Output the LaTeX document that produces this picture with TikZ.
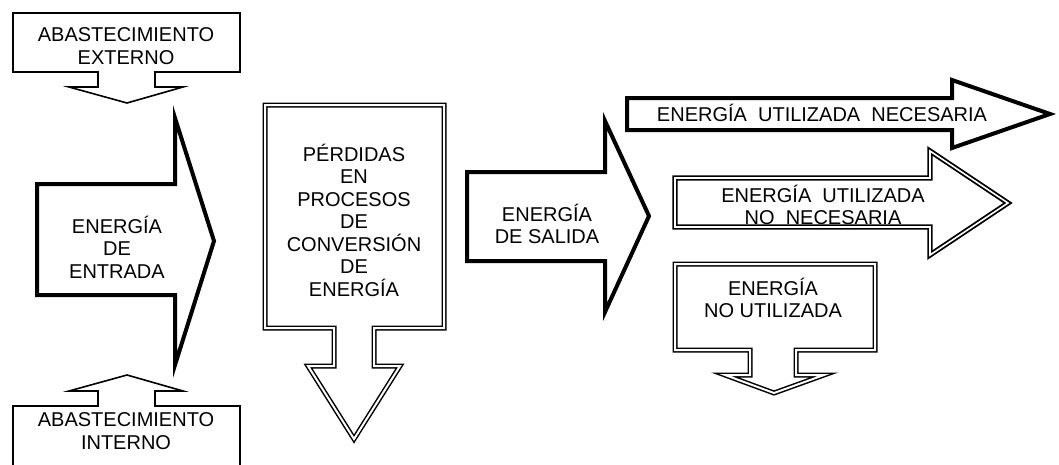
\documentclass[tikz,border=0pt]{standalone}
\usepackage{fontspec}
\setmainfont{Liberation Sans}
\begin{document}
\begin{tikzpicture}[x=1pt,y=-1pt,
  thinline/.style={line width=1.6pt, line join=miter},
  thickline/.style={line width=4pt, line join=miter, miter limit=20},
  dbl/.style={double, line width=1.5pt, double distance=2pt, line join=miter, miter limit=20},
  dblb/.style={double, line width=1.8pt, double distance=1.6pt, line join=miter, miter limit=20},
  txt/.style={font=\fontsize{20}{22.5}\selectfont, align=center, inner sep=0pt}]
\useasboundingbox (0,0) rectangle (1059,464);
% Abastecimiento externo
\draw[thinline] (13,13) -- (240,13) -- (240,72) -- (155,72) -- (155,87) -- (183,87) -- (127,103) -- (69,87) -- (98,87) -- (98,72) -- (13,72) -- cycle;
\node[txt] (ext) at (126,46) {ABASTECIMIENTO\\EXTERNO};
% Abastecimiento interno
\draw[thinline] (13,466) -- (13,406) -- (98,406) -- (98,391) -- (69,391) -- (127,375) -- (183,391) -- (155,391) -- (155,406) -- (240,406) -- (240,466);
\node[txt] (int) at (126,431) {ABASTECIMIENTO\\INTERNO};
% Energia de entrada
\draw[thickline] (37,184) -- (175,184) -- (175,118) -- (214,241) -- (175,365) -- (175,295) -- (37,295) -- cycle;
\node[txt] (ent) at (117,247) {ENERGÍA\\DE\\ENTRADA};
% Perdidas
\draw[dbl] (265,105) -- (444,105) -- (444,328) -- (374,328) -- (374,366) -- (400,366) -- (354,439) -- (308,366) -- (334,366) -- (334,328) -- (265,328) -- cycle;
\node[txt] (per) at (354,220) {PÉRDIDAS\\EN\\PROCESOS\\DE\\CONVERSIÓN\\DE\\ENERGÍA};
% Energia de salida
\draw[thickline] (467,172) -- (605,172) -- (605,121) -- (649,216) -- (605,312) -- (605,261) -- (467,261) -- cycle;
\node[txt] (sal) at (547,224) {ENERGÍA\\DE SALIDA};
% Utilizada necesaria
\draw[thickline] (627,98) -- (952,98) -- (952,80) -- (1050,114) -- (952,148) -- (952,130) -- (627,130) -- cycle;
\node[txt] (nec) at (822,113) {ENERGÍA\ \ UTILIZADA\ \ NECESARIA};
% Utilizada no necesaria
\draw[dblb] (675,178) -- (930,178) -- (930,151) -- (1008,203) -- (930,255) -- (930,227) -- (675,227) -- cycle;
\node[txt] (nonec) at (823,205) {ENERGÍA\ \ UTILIZADA\\NO\ \ NECESARIA};
% No utilizada
\draw[dbl] (675,264) -- (875,264) -- (875,350) -- (796,350) -- (796,375) -- (824,375) -- (774,393) -- (725,375) -- (750,375) -- (750,350) -- (675,350) -- cycle;
\node[txt] (nout) at (773,298) {ENERGÍA\\NO UTILIZADA};
\end{tikzpicture}
\end{document}
